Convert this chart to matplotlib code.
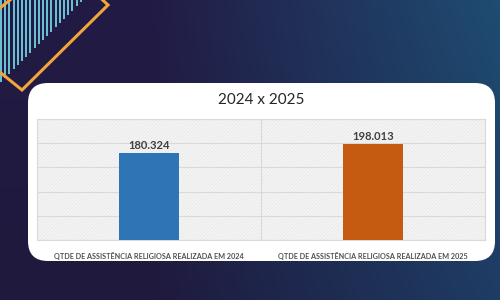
import numpy as np
import matplotlib
matplotlib.use("Agg")
import matplotlib.pyplot as plt
from matplotlib.patches import FancyBboxPatch, Polygon
from matplotlib.colors import to_rgb

# data
categories = ["QTDE DE ASSISTÊNCIA RELIGIOSA REALIZADA EM 2024",
              "QTDE DE ASSISTÊNCIA RELIGIOSA REALIZADA EM 2025"]
values = [180324, 198013]
bar_colors = ["#2e75b6", "#c55a11"]
title = "2024 x 2025"

plt.rcParams['font.family'] = ['Lato', 'DejaVu Sans']
plt.rcParams['hatch.linewidth'] = 0.5

fig = plt.figure(figsize=(5, 3), dpi=100)

# background in pixel coordinates
bg = fig.add_axes([0, 0, 1, 1])
bg.set_xlim(0, 500)
bg.set_ylim(300, 0)
bg.axis('off')

tl, tr = np.array(to_rgb("#221b45")), np.array(to_rgb("#1f4c72"))
bl, br = np.array(to_rgb("#1f193d")), np.array(to_rgb("#1e3c64"))
xx, yy = np.meshgrid(np.linspace(0, 1, 200), np.linspace(0, 1, 120))
wx = np.clip((xx - 0.3) / 0.7, 0, 1)[..., None]
wy = yy[..., None]
grad = (1 - wy) * ((1 - wx) * tl + wx * tr) + wy * ((1 - wx) * bl + wx * br)
bg.imshow(grad, extent=[0, 500, 300, 0], aspect='auto', zorder=0)

# cyan stripes in the top-left corner
for x in np.arange(1, 84, 4.2):
    bg.plot([x, x], [0, 83 - x], color="#6cc3d5", lw=1.4, zorder=1,
            solid_capstyle='butt')

# orange diamond outline
bg.add_patch(Polygon([(-40, 40), (22, 90), (108, 5), (60, -40)], closed=True,
                     fill=False, edgecolor="#f2a53a", lw=2.2, zorder=2))

# white card
bg.add_patch(FancyBboxPatch((28, 83), 467, 178,
                            boxstyle="round,pad=0,rounding_size=20",
                            facecolor="white", edgecolor="none", zorder=3))

bg.text(261, 100, title, ha='center', va='center', fontsize=11,
        color="#262626", zorder=4)

# chart
ax = fig.add_axes([37 / 500, 60 / 300, 448 / 500, 121 / 300])
ax.set_zorder(5)
ax.patch.set_facecolor("#f5f5f5")
ax.patch.set_hatch("//////////")
ax.patch.set_edgecolor("#e6e6e6")
ax.patch.set_linewidth(0)

x = np.arange(len(values))
ax.bar(x, values, width=0.27, color=bar_colors, zorder=3)
ax.set_xlim(-0.5, 1.5)
ax.set_ylim(0, 250000)
ax.set_yticks(np.arange(0, 250001, 50000))
ax.yaxis.grid(True, color="#d9d9d9", lw=0.8, zorder=1)
ax.axvline(0.5, color="#d9d9d9", lw=0.8, zorder=1)
ax.tick_params(left=False, labelleft=False, bottom=False)
ax.set_xticks(x)
ax.set_xticklabels(categories, fontsize=5.2, color="#505050",
                   fontweight='bold')
ax.tick_params(axis='x', pad=5)
for s in ax.spines.values():
    s.set_color("#d9d9d9")
    s.set_linewidth(0.8)

for xi, v in zip(x, values):
    ax.text(xi, v + 4000, f"{v:,}".replace(",", "."), ha='center', va='bottom',
            fontsize=8, fontweight='bold', color="#404040")

fig.savefig("out.png", dpi=100)
